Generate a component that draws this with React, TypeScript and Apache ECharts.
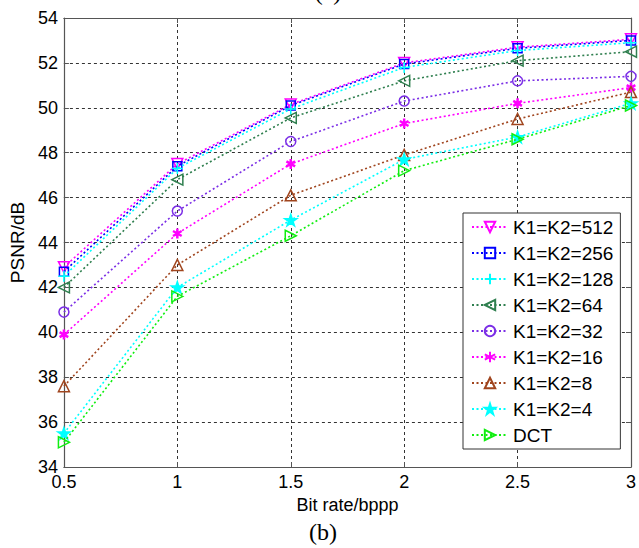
import React, { useEffect, useRef } from "react";
import * as echarts from "echarts";

const bitRates = [0.5, 1, 1.5, 2, 2.5, 3];
const xTicks = [0.5, 1, 1.5, 2, 2.5, 3];
const yTicks = [34, 36, 38, 40, 42, 44, 46, 48, 50, 52, 54];

const seriesNames = [
  "K1=K2=512",
  "K1=K2=256",
  "K1=K2=128",
  "K1=K2=64",
  "K1=K2=32",
  "K1=K2=16",
  "K1=K2=8",
  "K1=K2=4",
  "DCT",
];

const k512 = [42.9, 47.5, 50.15, 52.0, 52.7, 53.05];
const k256 = [42.7, 47.4, 50.1, 51.95, 52.65, 53.0];
const k128 = [42.5, 47.3, 49.95, 51.8, 52.55, 52.9];
const k64 = [42.0, 46.8, 49.55, 51.2, 52.1, 52.5];
const k32 = [40.9, 45.4, 48.5, 50.3, 51.2, 51.4];
const k16 = [39.9, 44.4, 47.5, 49.3, 50.2, 50.9];
const k8 = [37.6, 43.0, 46.1, 47.9, 49.5, 50.7];
const k4 = [35.5, 42.0, 45.0, 47.7, 48.7, 50.2];
const dct = [35.1, 41.6, 44.3, 47.2, 48.6, 50.1];

const seriesValues = [k512, k256, k128, k64, k32, k16, k8, k4, dct];

const PLUS = "path://M0,-1L0,1M-1,0L1,0";
const ASTER = "path://M0,-1L0,1M-0.87,-0.5L0.87,0.5M-0.87,0.5L0.87,-0.5";
const STAR =
  "path://M0,-1L0.225,-0.309L0.951,-0.309L0.363,0.118L0.588,0.809L0,0.382L-0.588,0.809L-0.363,0.118L-0.951,-0.309L-0.225,-0.309Z";

const styles = [
  { color: "#ff00ff", symbol: "triangle", rotate: 180, size: 11, fill: false },
  { color: "#0000ff", symbol: "rect", rotate: 0, size: 9, fill: false },
  { color: "#00ffff", symbol: PLUS, rotate: 0, size: 11, fill: false },
  { color: "#2f7f4f", symbol: "triangle", rotate: 90, size: 11, fill: false },
  { color: "#7b2ee6", symbol: "circle", rotate: 0, size: 10, fill: false },
  { color: "#ff00ff", symbol: ASTER, rotate: 0, size: 10, fill: false, bw: 2.5 },
  { color: "#a0451e", symbol: "triangle", rotate: 0, size: 11, fill: false },
  { color: "#00ffff", symbol: STAR, rotate: 0, size: 12, fill: true },
  { color: "#11ee11", symbol: "triangle", rotate: -90, size: 11, fill: false },
];

const FONT = "'Liberation Sans', Arial, sans-serif";

export default function App() {
  const ref = useRef<HTMLDivElement>(null);
  useEffect(() => {
    if (!ref.current) return;
    const chart = echarts.init(ref.current, null, { renderer: "svg" });
    const series = seriesNames.map((name, i) => {
      const s = styles[i];
      return {
        name,
        type: "line",
        data: bitRates.map((x, j) => [x, seriesValues[i][j]]),
        symbol: s.symbol,
        symbolRotate: s.rotate,
        symbolSize: s.size,
        symbolKeepAspect: true,
        showAllSymbol: true,
        z: 3 + i,
        lineStyle: { color: s.color, width: 1.6, type: [2, 2.5] },
        itemStyle: {
          color: s.fill ? s.color : "rgba(255,255,255,0)",
          borderColor: s.color,
          borderWidth: (s as any).bw || 1.5,
        },
        emphasis: { disabled: true },
      };
    });
    const yAxisBase = {
      type: "value",
      min: 34,
      max: 54,
      interval: 2,
    };
    const xAxisBase = {
      type: "value",
      min: 0.5,
      max: 3,
      interval: 0.5,
    };
    chart.setOption({
      animation: false,
      backgroundColor: "#ffffff",
      grid: { left: 63, right: 4, top: 18, bottom: 81, containLabel: false },
      xAxis: [
        {
          ...xAxisBase,
          position: "bottom",
          name: "Bit rate/bppp",
          nameLocation: "middle",
          nameGap: 26,
          nameTextStyle: { fontFamily: FONT, fontSize: 18, color: "#000" },
          axisLine: { show: true, lineStyle: { color: "#555", width: 1.2 } },
          axisTick: { show: true, inside: true, length: 5, lineStyle: { color: "#555" } },
          axisLabel: {
            fontFamily: FONT,
            fontSize: 18,
            color: "#000",
            margin: 6,
            formatter: (v: number) => (xTicks.includes(v) ? String(v) : ""),
          },
          splitLine: { show: true, lineStyle: { color: "#333", type: [3, 3], width: 1 } },
        },
        {
          ...xAxisBase,
          position: "top",
          axisLine: { show: true, lineStyle: { color: "#555", width: 1.2 } },
          axisTick: { show: true, inside: true, length: 5, lineStyle: { color: "#555" } },
          axisLabel: { show: false },
          splitLine: { show: false },
        },
      ],
      yAxis: [
        {
          ...yAxisBase,
          position: "left",
          name: "PSNR/dB",
          nameLocation: "middle",
          nameGap: 36,
          nameTextStyle: { fontFamily: FONT, fontSize: 19, color: "#000" },
          axisLine: { show: true, lineStyle: { color: "#555", width: 1.2 } },
          axisTick: { show: true, inside: true, length: 5, lineStyle: { color: "#555" } },
          axisLabel: {
            fontFamily: FONT,
            fontSize: 18,
            color: "#000",
            margin: 6,
            formatter: (v: number) => (yTicks.includes(v) ? String(v) : ""),
          },
          splitLine: { show: true, lineStyle: { color: "#333", type: [3, 3], width: 1 } },
        },
        {
          ...yAxisBase,
          position: "right",
          axisLine: { show: true, lineStyle: { color: "#555", width: 1.2 } },
          axisTick: { show: true, inside: true, length: 5, lineStyle: { color: "#555" } },
          axisLabel: { show: false },
          splitLine: { show: false },
        },
      ],
      legend: {
        orient: "vertical",
        left: 463,
        top: 213,
        padding: [4, 7, 4, 8],
        itemWidth: 36,
        itemHeight: 13,
        itemGap: 6,
        backgroundColor: "#ffffff",
        borderColor: "#333",
        borderWidth: 1,
        z: 20,
        textStyle: { fontFamily: FONT, fontSize: 19, color: "#000", lineHeight: 20 },
        data: seriesNames,
      },
      graphic: [
        {
          type: "text",
          x: 323,
          y: 532,
          style: {
            text: "(b)",
            align: "center",
            verticalAlign: "middle",
            fontFamily: "'Liberation Serif', 'Times New Roman', serif",
            fontSize: 24,
            fill: "#000",
          },
        },
        {
          type: "text",
          x: 328,
          y: 4,
          style: {
            text: "(a)",
            align: "center",
            verticalAlign: "bottom",
            fontFamily: "'Liberation Serif', 'Times New Roman', serif",
            fontSize: 24,
            fill: "#000",
          },
        },
      ],
      series,
    });
    return () => chart.dispose();
  }, []);
  return (
    <div
      ref={ref}
      style={{ position: "absolute", left: 0, top: 0, width: 639, height: 548 }}
    />
  );
}
